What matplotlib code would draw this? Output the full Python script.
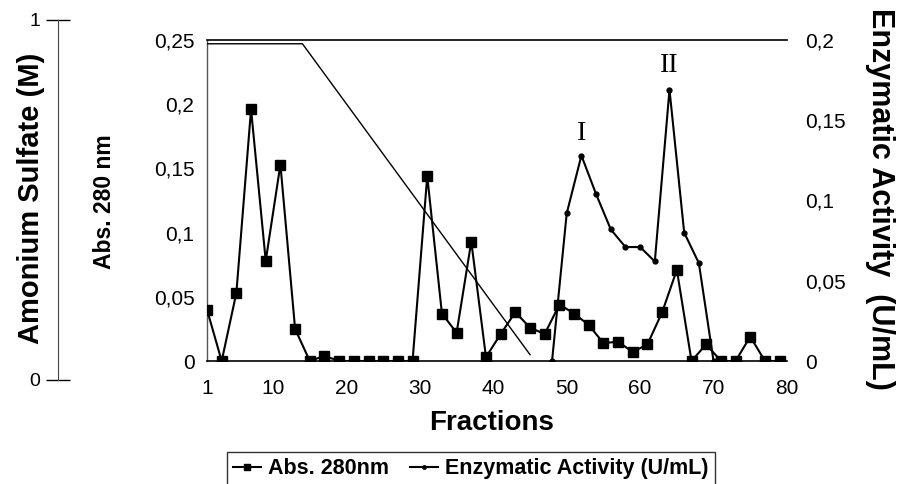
import matplotlib
matplotlib.use("Agg")
import matplotlib.pyplot as plt

plt.rcParams["font.family"] = ["Liberation Sans", "DejaVu Sans"]

# Abs. 280 nm, read at the odd fractions
abs_fractions = [1, 3, 5, 7, 9, 11, 13, 15, 17, 19, 21, 23, 25, 27, 29, 31, 33, 35, 37, 39,
                 41, 43, 45, 47, 49, 51, 53, 55, 57, 59, 61, 63, 65, 67, 69, 71, 73, 75, 77, 79]
abs_280 = [0.040, 0, 0.053, 0.196, 0.078, 0.153, 0.025, 0, 0.004, 0,
           0, 0, 0, 0, 0, 0.144, 0.037, 0.022, 0.093, 0.003,
           0.021, 0.038, 0.026, 0.021, 0.044, 0.037, 0.028, 0.014, 0.015, 0.007,
           0.013, 0.038, 0.071, 0, 0.013, 0, 0, 0.019, 0, 0]

# enzymatic activity (U/mL), even fractions
enz_fractions = [48, 50, 52, 54, 56, 58, 60, 62, 64, 66, 68, 70]
enz_activity = [0, 0.092, 0.128, 0.104, 0.082, 0.071, 0.071, 0.062, 0.169, 0.080, 0.061, 0]

# ammonium sulfate gradient (M)
grad_fractions = [1, 14, 45]
grad_molar = [1.0, 1.0, 0.02]

x_ticks = [1, 10, 20, 30, 40, 50, 60, 70, 80]
abs_ticks = [0, 0.05, 0.1, 0.15, 0.2, 0.25]
abs_tick_labels = ["0", "0,05", "0,1", "0,15", "0,2", "0,25"]
enz_ticks = [0, 0.05, 0.1, 0.15, 0.2]
enz_tick_labels = ["0", "0,05", "0,1", "0,15", "0,2"]

fig = plt.figure(figsize=(9, 4.84), dpi=100)
ax = fig.add_axes([0.23, 0.2541, 0.6444, 0.6633])
ax2 = ax.twinx()
ax3 = ax.twinx()

l1, = ax.plot(abs_fractions, abs_280, color="black", lw=1.5, marker="s",
              markersize=7, label="Abs. 280nm", zorder=3)
l2, = ax2.plot(enz_fractions, enz_activity, color="black", lw=1.5, marker="o",
               markersize=3.5, label="Enzymatic Activity (U/mL)", zorder=3)
ax3.plot(grad_fractions, grad_molar, color="black", lw=1.0)

ax.set_xlim(1, 80)
ax.set_ylim(0, 0.25)
ax2.set_ylim(0, 0.2)
ax3.set_ylim(0, 1.012)

ax.set_xticks(x_ticks)
ax.set_xticklabels([str(t) for t in x_ticks])
ax.set_yticks(abs_ticks)
ax.set_yticklabels(abs_tick_labels)
ax.tick_params(axis="x", length=0, pad=13, labelsize=15)
ax.tick_params(axis="y", length=0, pad=9, labelsize=15)

ax2.set_yticks(enz_ticks)
ax2.set_yticklabels(enz_tick_labels)
ax2.tick_params(axis="y", length=0, pad=13, labelsize=15)
ax3.set_yticks([])

for a in (ax, ax2, ax3):
    a.spines["right"].set_visible(False)
for a in (ax2, ax3):
    for s in a.spines.values():
        s.set_visible(False)
ax.spines["left"].set_color("#555555")
ax.spines["left"].set_linewidth(1.0)
ax.spines["top"].set_linewidth(1.2)
ax.spines["bottom"].set_linewidth(1.2)

# far left ammonium sulfate axis
axm = fig.add_axes([0.0644, 0.2149, 0.0001, 0.7438])
axm.set_ylim(0, 1)
axm.set_xticks([])
axm.set_yticks([0, 1])
axm.set_yticklabels(["0", "1"])
axm.tick_params(axis="y", direction="inout", length=17, width=1.0, pad=4, labelsize=14)
for s in ("top", "bottom", "right"):
    axm.spines[s].set_visible(False)
axm.spines["left"].set_color("#444444")
axm.patch.set_visible(False)

fig.text(0.035, 0.59, "Amonium Sulfate (M)", rotation=90, ha="center", va="center",
         fontsize=21, fontweight="bold")
fig.text(0.116, 0.584, "Abs. 280 nm", rotation=90, ha="center", va="center",
         fontsize=16.5, fontweight="bold")
fig.text(0.978, 0.59, "Enzymatic Activity  (U/mL)", rotation=270, ha="center", va="center",
         fontsize=22, fontweight="bold")
fig.text(0.5467, 0.126, "Fractions", ha="center", va="center", fontsize=20, fontweight="bold")

ax2.text(52, 0.142, "I", ha="center", va="center", fontsize=20, family="Liberation Serif")
ax2.text(64, 0.184, "II", ha="center", va="center", fontsize=20, family="Liberation Serif")

fig.legend(handles=[l1, l2], loc="upper left", bbox_to_anchor=(0.2522, 0.0661),
           borderaxespad=0, ncol=2, frameon=True, fancybox=False, edgecolor="black",
           prop={"weight": "bold", "size": 15.5}, handlelength=1.3, handletextpad=0.3,
           columnspacing=1.0, borderpad=0.3, markerscale=0.7)

fig.savefig("out.png", dpi=100)
